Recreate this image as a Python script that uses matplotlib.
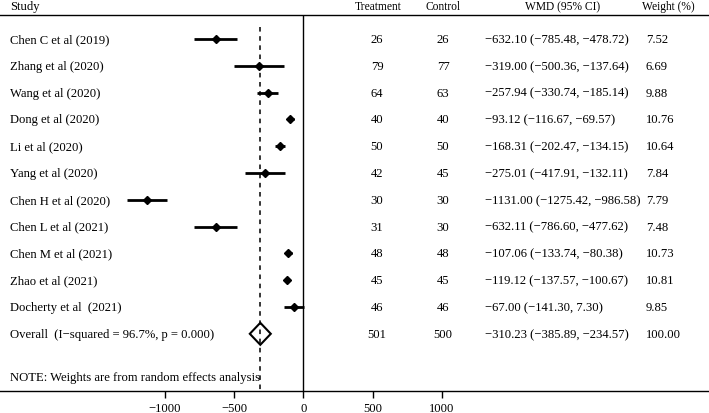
import matplotlib
matplotlib.use("Agg")
import matplotlib.pyplot as plt
from matplotlib.patches import Polygon

# ---- data -------------------------------------------------------------
studies = ["Chen C et al (2019)", "Zhang et al (2020)", "Wang et al (2020)",
           "Dong et al (2020)", "Li et al (2020)", "Yang et al (2020)",
           "Chen H et al (2020)", "Chen L et al (2021)", "Chen M et al (2021)",
           "Zhao et al (2021)", "Docherty et al  (2021)"]
treatment = [26, 79, 64, 40, 50, 42, 30, 31, 48, 45, 46]
control = [26, 77, 63, 40, 50, 45, 30, 30, 48, 45, 46]
wmd = [-632.10, -319.00, -257.94, -93.12, -168.31, -275.01,
       -1131.00, -632.11, -107.06, -119.12, -67.00]
ci_low = [-785.48, -500.36, -330.74, -116.67, -202.47, -417.91,
          -1275.42, -786.60, -133.74, -137.57, -141.30]
ci_high = [-478.72, -137.64, -185.14, -69.57, -134.15, -132.11,
           -986.58, -477.62, -80.38, -100.67, 7.30]
weights = [7.52, 6.69, 9.88, 10.76, 10.64, 7.84, 7.79, 7.48, 10.73, 10.81, 9.85]

overall_label = "Overall  (I\u2212squared = 96.7%, p = 0.000)"
overall_n = (501, 500)
overall = (-310.23, -385.89, -234.57)
overall_weight = 100.00
note = "NOTE: Weights are from random effects analysis"
xticks = [-1000, -500, 0, 500, 1000]


def fmt(v):
    return f"{v:.2f}".replace("-", "\u2212")


plt.rcParams["font.family"] = ["Liberation Serif", "DejaVu Serif"]
FS = 9.1

fig = plt.figure(figsize=(7.09, 4.14), dpi=100)
ax = fig.add_axes([0, 0, 1, 1])
W = 709.0
# pixel 303.3 is zero, 0.1386 px per unit
scale = 0.1386
x0 = 303.3
ax.set_xlim(-x0 / scale, (W - x0) / scale)
ax.set_ylim(414, 0)

row0, step = 40, 26.8
ys = [row0 + step * i for i in range(len(studies))]
y_over = row0 + step * len(studies)
axis_y = 392

# lines
for s in ["top", "left", "right"]:
    ax.spines[s].set_visible(False)
ax.spines["bottom"].set_position(("data", axis_y))
ax.spines["bottom"].set_linewidth(1.0)
ax.set_yticks([])
ax.set_xticks(xticks)
ax.set_xticklabels([str(t).replace("-", "\u2212") for t in xticks], fontsize=FS)
ax.tick_params(axis="x", direction="out", length=5, width=1.0, pad=3)

ax.axhline(16, color="black", lw=1.0)
ax.vlines(0, 16, axis_y, color="black", lw=1.0)
ax.vlines(overall[0], 28, axis_y, color="black", lw=1.1, linestyles=(0, (3, 3)))

# studies
ax.hlines(ys, ci_low, ci_high, color="black", lw=2)
ax.plot(wmd, ys, "D", color="black", ms=4)

est, lo, hi = overall
half = 11
ax.add_patch(Polygon([(lo, y_over), (est, y_over - half), (hi, y_over), (est, y_over + half)],
                     closed=True, fill=False, edgecolor="black", lw=1.5))

# text columns
tr = ax.get_yaxis_transform()
hdr_y = 7
ax.text(10 / W, hdr_y, "Study", transform=tr, fontsize=FS, va="center")
ax.text(378 / W, hdr_y, "Treatment", transform=tr, fontsize=FS - 0.8, va="center", ha="center")
ax.text(443 / W, hdr_y, "Control", transform=tr, fontsize=FS - 0.8, va="center", ha="center")
ax.text(563 / W, hdr_y, "WMD (95% CI)", transform=tr, fontsize=FS - 0.8, va="center", ha="center")
ax.text(668 / W, hdr_y, "Weight (%)", transform=tr, fontsize=FS - 0.8, va="center", ha="center")

for i, y in enumerate(ys):
    ax.text(10 / W, y, studies[i], transform=tr, fontsize=FS, va="center")
    ax.text(377 / W, y, str(treatment[i]), transform=tr, fontsize=FS, va="center", ha="center")
    ax.text(443 / W, y, str(control[i]), transform=tr, fontsize=FS, va="center", ha="center")
    ax.text(485 / W, y, f"{fmt(wmd[i])} ({fmt(ci_low[i])}, {fmt(ci_high[i])})",
            transform=tr, fontsize=FS, va="center")
    ax.text(646 / W, y, f"{weights[i]:.2f}", transform=tr, fontsize=FS, va="center")

ax.text(10 / W, y_over, overall_label, transform=tr, fontsize=FS, va="center")
ax.text(377 / W, y_over, str(overall_n[0]), transform=tr, fontsize=FS, va="center", ha="center")
ax.text(443 / W, y_over, str(overall_n[1]), transform=tr, fontsize=FS, va="center", ha="center")
ax.text(485 / W, y_over, f"{fmt(est)} ({fmt(lo)}, {fmt(hi)})", transform=tr, fontsize=FS, va="center")
ax.text(646 / W, y_over, f"{overall_weight:.2f}", transform=tr, fontsize=FS, va="center")

ax.text(10 / W, 378, note, transform=tr, fontsize=FS, va="center")

fig.savefig("out.png", dpi=100)
